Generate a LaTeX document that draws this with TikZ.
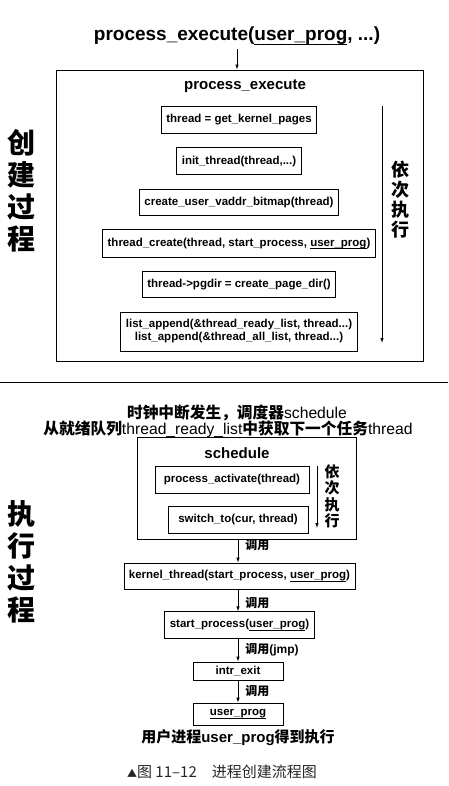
\documentclass[tikz,border=0pt]{standalone}
\usepackage{fontspec}
\setmainfont{Liberation Sans}
\newfontfamily\cjk{Noto Sans CJK SC}
\usetikzlibrary{arrows.meta, positioning}
\newsavebox\ulbox
\newcommand\progline[1]{\sbox\ulbox{#1}\rlap{\vrule height -0.17em depth 0.27em width \wd\ulbox}\usebox\ulbox}

\begin{document}
\begin{tikzpicture}[
    x=1pt, y=-1pt,
    node distance=13.5pt,
    framebox/.style={
        draw, line width=0.9pt,
        inner sep=0pt,
    },
    stepbox/.style={
        draw, line width=0.8pt,
        inner xsep=5pt, inner ysep=2pt,
        minimum height=#1,
        align=center,
        font=\bfseries\fontsize{11.5}{13}\selectfont,
    },
    stepbox/.default=27pt,
    headtxt/.style={
        font=\bfseries\fontsize{15}{17}\selectfont,
    },
    sidetxt/.style={
        align=center, inner sep=0pt,
        font=\cjk\bfseries\fontsize{28}{32}\selectfont,
    },
    ordertxt/.style 2 args={
        align=center, inner sep=0pt,
        font=\cjk\bfseries\fontsize{#1}{#2}\selectfont,
    },
    calltxt/.style={
        anchor=west, inner sep=0pt, xshift=7pt,
        font=\cjk\bfseries\fontsize{12}{14}\selectfont,
    },
    notetxt/.style={
        font=\cjk\bfseries\fontsize{15}{17}\selectfont,
    },
    flow/.style={
        line width=0.8pt,
        -{Latex[length=5pt,width=3.5pt]},
    },
]
\useasboundingbox (0,0) rectangle (448,786);

\node[font=\bfseries\fontsize{19}{21}\selectfont] (ttl) at (237,36) {process\_execute(\progline{user\_prog}, ...)};

\node[framebox, minimum width=367, minimum height=291] (pebox) at (239.5,215.5) {};
\draw[flow] (ttl.south) -- (ttl.south |- pebox.north);
\node[headtxt] (pehead) at (245,86) {process\_execute};

\node[stepbox] (b1) at (239,120) {thread = get\_kernel\_pages};
\node[stepbox, below=of b1] (b2) {init\_thread(thread,...)};
\node[stepbox=26pt, below=of b2] (b3) {create\_user\_vaddr\_bitmap(thread)};
\node[stepbox=28pt, below=of b3] (b4) {thread\_create(thread, start\_process, \progline{user\_prog})};
\node[stepbox=26pt, below=of b4] (b5) {thread->pgdir = create\_page\_dir()};
\node[stepbox=39pt, below=of b5] (b6) {list\_append(\&thread\_ready\_list, thread...)\\list\_append(\&thread\_all\_list, thread...)};

\coordinate (ordtop) at (382,106);
\coordinate (ordbot) at (382,343);
\draw[flow] (ordtop) -- (ordbot);
\node[ordertxt={18}{20}] (ordlbl) at (400,200) {依\\次\\执\\行};

\node[sidetxt] (create) at (22,191) {创\\建\\过\\程};

\coordinate (sepl) at (0,382);
\coordinate (sepr) at (448,382);
\draw[line width=0.8pt] (sepl) -- (sepr);

\node[font=\fontsize{15.7}{17}\selectfont] (clk) at (237,413) {{\cjk\bfseries 时钟中断发生，调度器}schedule};
\node[font=\fontsize{15.7}{17}\selectfont] (rdy) at (228,429) {{\cjk\bfseries 从就绪队列}thread\_ready\_list{\cjk\bfseries 中获取下一个任务}thread};

\node[framebox, minimum width=219, minimum height=102] (schbox) at (246.5,488) {};
\node[headtxt] (schhead) at (237,453) {schedule};
\node[stepbox, minimum width=154] (pa) at (232,479.5) {process\_activate(thread)};
\node[stepbox, minimum width=140] (sw) at (238,519.5) {switch\_to(cur, thread)};

\coordinate (subtop) at (317,466);
\coordinate (subbot) at (317,528);
\draw[flow] (subtop) -- (subbot);
\node[ordertxt={15}{16.5}] (sublbl) at (332,496) {依\\次\\执\\行};

\node[stepbox=26pt, minimum width=231] (kt) at (239.5,576) {kernel\_thread(start\_process, \progline{user\_prog})};
\node[stepbox=26.5pt, minimum width=147] (sp) at (239.5,625) {start\_process(\progline{user\_prog})};
\node[stepbox=18pt, minimum width=90] (ie) at (238,671) {intr\_exit};
\node[stepbox=22pt, minimum width=90] (up) at (238,714) {\progline{user\_prog}};

\draw[flow] (schbox.south -| ie) -- node[calltxt, pos=0.25] {调用} (kt.north -| ie);
\draw[flow] (kt.south -| ie) -- node[calltxt, pos=0.6] {调用} (sp.north -| ie);
\draw[flow] (sp.south -| ie) -- node[calltxt] {调用{\rmfamily(jmp)}} (ie.north);
\draw[flow] (ie.south) -- node[calltxt] {调用} (up.north);

\node[sidetxt] (run) at (22,562) {执\\行\\过\\程};

\node[notetxt] (done) at (238,738) {用户进程{\rmfamily user\_prog}得到执行};
\node[font=\cjk\fontsize{15}{17}\selectfont, text=black!85] (cap) at (222,772) {{\fontsize{10}{12}\selectfont▲}图 11–12\quad 进程创建流程图};

\end{tikzpicture}
\end{document}
